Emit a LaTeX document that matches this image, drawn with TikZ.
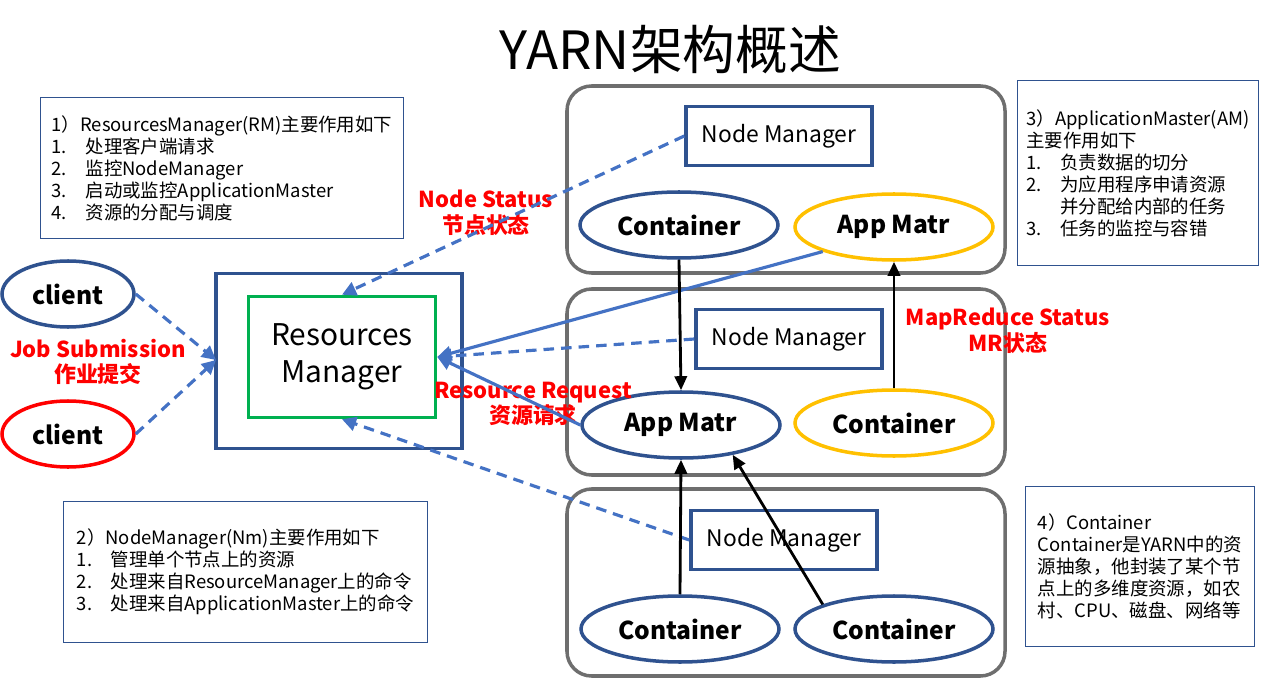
\documentclass[tikz,border=0pt]{standalone}
\usepackage{fontspec}
\setmainfont{Noto Sans CJK SC}
\usetikzlibrary{arrows.meta,shapes.geometric}
\definecolor{db}{RGB}{47,82,143}
\definecolor{lb}{RGB}{68,114,196}
\definecolor{yl}{RGB}{255,192,0}
\definecolor{gr}{RGB}{0,176,80}
\definecolor{gy}{RGB}{110,110,110}
\begin{document}
\begin{tikzpicture}[x=0.02cm,y=-0.02cm,
 info/.style={draw=db,line width=0.6pt,align=left,font=\fontsize{10.5}{12.5}\selectfont,anchor=north west,inner sep=5pt},
 grp/.style={draw=gy,line width=2pt,rounded corners=14pt},
 nm/.style={draw=db,line width=2pt,minimum width=186*0.02cm,minimum height=59*0.02cm,font=\fontsize{13}{15}\selectfont},
 ell/.style={ellipse,draw=db,line width=2pt,minimum width=198*0.02cm,minimum height=66*0.02cm,font=\bfseries\fontsize{14}{16}\selectfont},
 yel/.style={ell,draw=yl},
 lab/.style={text=red,font=\bfseries\fontsize{12.5}{14.5}\selectfont,align=center},
 dsh/.style={draw=lb,dashed,line width=1.8pt,dash pattern=on 6pt off 4pt,-{Triangle[length=8pt,width=8pt]}},
 sol/.style={draw=lb,line width=1.8pt,-{Triangle[length=8pt,width=8pt]}},
 blk/.style={draw=black,line width=1.6pt,-{Triangle[length=8pt,width=7pt]}}]
\useasboundingbox (0,0) rectangle (1265,679);
\node (title) at (670,50) {\fontsize{30}{34}\selectfont YARN架构概述};
\node[info,minimum width=363*0.02cm,minimum height=141*0.02cm] (b1) at (40,97) {1）ResourcesManager(RM)主要作用如下\\1.\quad 处理客户端请求\\2.\quad 监控NodeManager\\3.\quad 启动或监控ApplicationMaster\\4.\quad 资源的分配与调度};
\node[info,minimum width=241*0.02cm,minimum height=185*0.02cm] (b3) at (1017,80) {3）ApplicationMaster(AM)\\主要作用如下\\1.\quad 负责数据的切分\\2.\quad 为应用程序申请资源\\\phantom{2.}\quad 并分配给内部的任务\\3.\quad 任务的监控与容错};
\node[info,minimum width=364*0.02cm,minimum height=141*0.02cm] (b2) at (63,501) {2）NodeManager(Nm)主要作用如下\\1.\quad 管理单个节点上的资源\\2.\quad 处理来自ResourceManager上的命令\\3.\quad 处理来自ApplicationMaster上的命令};
\node[info,minimum width=229*0.02cm,minimum height=160*0.02cm] (b4) at (1025,486) {4）Container\\Container是YARN中的资\\源抽象，他封装了某个节\\点上的多维度资源，如农\\村、CPU、磁盘、网络等};
\draw[grp] (567,86) rectangle (1005,273);
\draw[grp] (567,289) rectangle (1005,475);
\draw[grp] (567,489) rectangle (1005,676);
\node[nm] (nm1) at (779,136) {Node Manager};
\node[nm] (nm2) at (789,339) {Node Manager};
\node[nm] (nm3) at (784,540) {Node Manager};
\node[ell] (c1) at (679,225) {Container};
\node[yel] (am1) at (894,227) {App Matr};
\node[ell] (am2) at (681,425) {App Matr};
\node[yel] (c2) at (894,423) {Container};
\node[ell] (c3) at (680,629) {Container};
\node[ell] (c4) at (894,629) {Container};
\node[ell,minimum width=132*0.02cm] (cl1) at (68,294) {client};
\node[ell,draw=red,minimum width=132*0.02cm] (cl2) at (68,434) {client};
\node[draw=db,line width=2pt,minimum width=246*0.02cm,minimum height=175*0.02cm] (rmo) at (339,361) {};
\node[draw=gr,line width=2pt,minimum width=187*0.02cm,minimum height=121*0.02cm,align=center,font=\fontsize{17}{21}\selectfont] (rm) at (342,357) {Resources\\Manager};
\node[lab] (l1) at (486,213) {Node Status\\节点状态};
\node[lab] (l2) at (98,362) {Job Submission\\作业提交};
\node[lab] (l3) at (1008,331) {MapReduce Status\\MR状态};
\node[lab] (l4) at (533,404) {Resource Request\\资源请求};
\coordinate (t1) at (216,360);
\draw[dsh] (cl1.east) -- (t1);
\draw[dsh] (cl2.east) -- (t1);
\draw[dsh] (nm1.west) -- (rm.north);
\draw[dsh] (nm2.west) -- (rm.east);
\draw[dsh] (nm3.west) -- (rm.south);
\draw[sol] (am1.south west) -- (rm.east);
\draw[sol] (am2.west) -- (rm.east);
\draw[blk] (c1.south) -- (am2.north);
\draw[blk] (c2.north) -- (am1.south);
\draw[blk] (c3.north) -- (am2.south);
\draw[blk] (c4.north west) -- (am2.-30);
\end{tikzpicture}
\end{document}
